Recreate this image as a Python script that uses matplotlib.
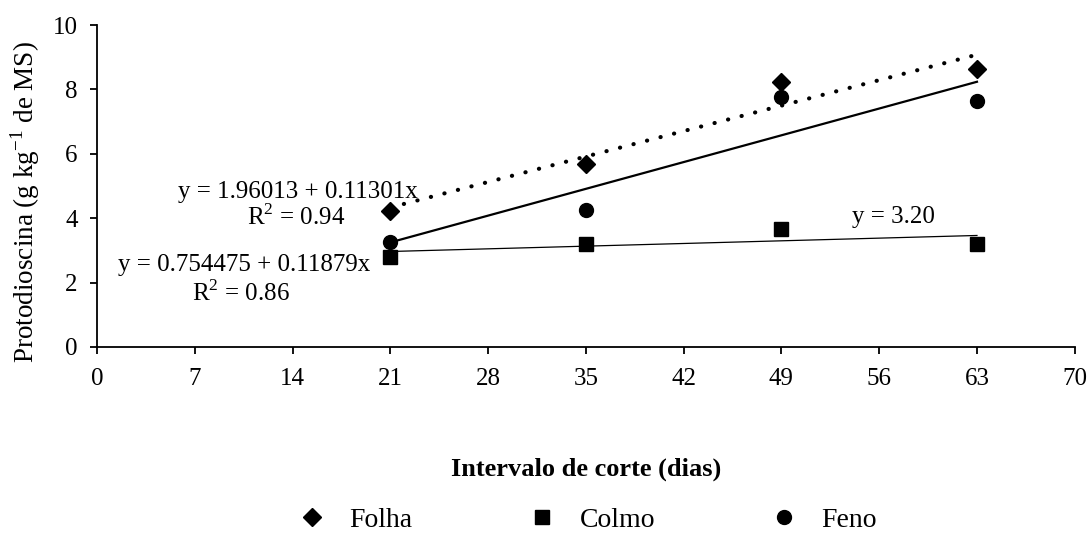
import numpy as np
import matplotlib
matplotlib.use("Agg")
from matplotlib import pyplot as plt
from matplotlib.lines import Line2D

plt.rcParams['font.family'] = ['Liberation Serif', 'DejaVu Serif']
plt.rcParams['mathtext.fontset'] = 'custom'
plt.rcParams['mathtext.rm'] = 'Liberation Serif'

# cutting intervals (days)
dias = [21, 35, 49, 63]

# protodioscin content per fraction
folha = [4.22, 5.68, 8.23, 8.63]
colmo = [2.80, 3.20, 3.66, 3.20]
feno = [3.26, 4.27, 7.76, 7.63]

# fitted equations
folha_a, folha_b = 1.96013, 0.11301
feno_a, feno_b = 0.754475, 0.11879

fig = plt.figure(figsize=(10.9, 5.33), dpi=100)
ax = fig.add_axes([0.089, 0.349, 0.897, 0.604])

x_fit = np.array([dias[0], dias[-1]])

# trend lines
ax.plot(x_fit, folha_a + folha_b * x_fit, color='black', lw=3,
        linestyle=(0, (0.05, 3.3)), dash_capstyle='round', zorder=2)
ax.plot(x_fit, feno_a + feno_b * x_fit, color='black', lw=1.6, zorder=2)
c_b, c_a = np.polyfit(dias, colmo, 1)
ax.plot(x_fit, c_a + c_b * x_fit, color='black', lw=0.9, zorder=2)

# observed points
ax.plot(dias, folha, 'D', color='black', markersize=9, zorder=3)
ax.plot(dias, colmo, 's', color='black', markersize=10, zorder=3)
ax.plot(dias, feno, 'o', color='black', markersize=10, zorder=3)

# equations
fs = 18
ax.text(14.4, 4.81, 'y = 1.96013 + 0.11301x', ha='center', va='center', fontsize=fs)
ax.text(14.25, 4.04, 'R$^2$ = 0.94', ha='center', va='center', fontsize=fs)
ax.text(10.5, 2.55, 'y = 0.754475 + 0.11879x', ha='center', va='center', fontsize=fs)
ax.text(10.3, 1.68, 'R$^2$ = 0.86', ha='center', va='center', fontsize=fs)
ax.text(57.0, 4.04, 'y = 3.20', ha='center', va='center', fontsize=fs)

ax.set_xlim(0, 70)
ax.set_ylim(0, 10)
ax.set_xticks(np.arange(0, 71, 7))
ax.set_yticks(np.arange(0, 11, 2))
ax.tick_params(labelsize=18, direction='out', length=5, width=1.3)
ax.tick_params(axis='x', pad=10)
ax.tick_params(axis='y', pad=9)
for s in ['top', 'right']:
    ax.spines[s].set_visible(False)
for s in ['left', 'bottom']:
    ax.spines[s].set_linewidth(1.3)

ax.set_ylabel('Protodioscina (g kg$^{-1}$ de MS)', fontsize=19.5)
ax.yaxis.set_label_coords(-0.056, 0.45)
ax.set_xlabel('Intervalo de corte (dias)', fontsize=19, fontweight='bold')
ax.xaxis.set_label_coords(0.5, -0.342)

handles = [
    Line2D([], [], marker='D', color='black', linestyle='none', markersize=9),
    Line2D([], [], marker='s', color='black', linestyle='none', markersize=10),
    Line2D([], [], marker='o', color='black', linestyle='none', markersize=10),
]
fig.legend(handles, ['Folha', 'Colmo', 'Feno'], loc='center', ncol=3,
           bbox_to_anchor=(0.536, 0.024), frameon=False, fontsize=20,
           columnspacing=3.9, handletextpad=0.6, handlelength=1.5)

fig.savefig('out.png', dpi=100)
